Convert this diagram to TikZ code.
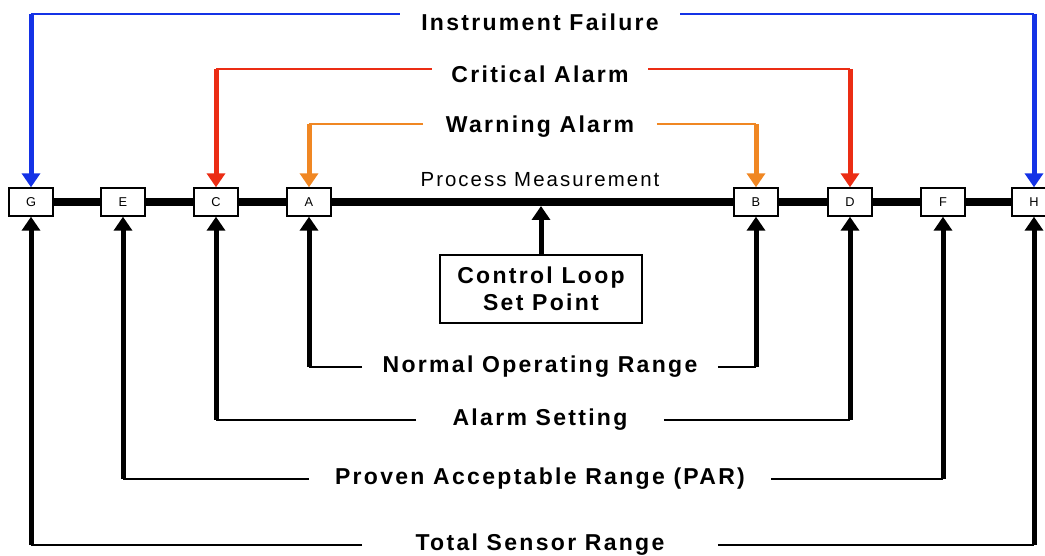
\documentclass[tikz,border=0pt]{standalone}
\usepackage{fontspec}
\setmainfont{Liberation Sans}
\newfontfamily\spacedfont[LetterSpace=10]{Liberation Sans}
\usetikzlibrary{arrows.meta}
\definecolor{failblue}{RGB}{20,50,230}
\definecolor{critred}{RGB}{235,45,20}
\definecolor{warnorange}{RGB}{240,135,35}
\tikzset{
  limitbox/.style={draw, line width=0.7pt, fill=white, minimum width=22pt, minimum height=14pt, inner sep=0pt, font=\fontsize{6.4}{7}\selectfont},
  rangelabel/.style={font=\spacedfont\bfseries\fontsize{11.5}{13}\selectfont, inner sep=0pt, minimum width=#1},
  hline/.style={line width=1.2pt},
  vline/.style={line width=2.5pt, -{Triangle[width=9pt,length=7pt]}},
  measbar/.style={line width=4pt}
}
\begin{document}
\begin{tikzpicture}[x=0.5pt,y=-0.5pt]
\useasboundingbox (0,0) rectangle (1045,556);
% limit points on the measurement scale
\node[limitbox] (G) at (31,202) {G};
\node[limitbox] (E) at (123,202) {E};
\node[limitbox] (C) at (216,202) {C};
\node[limitbox] (A) at (309,202) {A};
\node[limitbox] (B) at (756,202) {B};
\node[limitbox] (D) at (850,202) {D};
\node[limitbox] (F) at (943,202) {F};
\node[limitbox] (H) at (1034,202) {H};
\draw[measbar] (G) -- (E) -- (C) -- (A) -- (B) -- (D) -- (F) -- (H);
\node[font=\spacedfont\fontsize{10.2}{12}\selectfont] (meas) at (540,180) {Process Measurement};

% set point
\node[draw, line width=0.7pt, minimum width=101pt, minimum height=34pt, align=center,
  font=\spacedfont\bfseries\fontsize{11.5}{13.5}\selectfont] (setpt) at (541,289) {Control Loop\\Set Point};
\path (A.center -| setpt.north) ++(0,-2pt) coordinate (spin);
\draw[vline] (setpt) -- (spin);

% alarms above the scale
\node[rangelabel=140pt] (instr) at (540,22) {Instrument Failure};
\node[rangelabel=108pt] (crit) at (540,74) {Critical Alarm};
\node[rangelabel=116.5pt] (warn) at (540,127) {Warning Alarm};
\path ([yshift=4pt]instr.west) coordinate (instrL) ([yshift=4pt]instr.east) coordinate (instrR);
\path ([yshift=2.5pt]crit.west) coordinate (critL) ([yshift=2.5pt]crit.east) coordinate (critR);
\path ([yshift=1.5pt]warn.west) coordinate (warnL) ([yshift=1.5pt]warn.east) coordinate (warnR);
\foreach \from/\to/\col in {instrL/G/failblue, instrR/H/failblue, critL/C/critred,
    critR/D/critred, warnL/A/warnorange, warnR/B/warnorange} {
  \draw[\col, hline] (\from) -- (\from -| \to);
  \draw[\col, vline] (\from -| \to) -- (\to.north);
}

% ranges below the scale
\node[rangelabel=177.5pt] (normal) at (540,367) {Normal Operating Range};
\node[rangelabel=123.5pt] (alarm) at (540,420) {Alarm Setting};
\node[rangelabel=231pt] (par) at (540,479) {Proven Acceptable Range (PAR)};
\node[rangelabel=177.5pt] (total) at (540,545) {Total Sensor Range};
\foreach \from/\to in {normal.west/A, normal.east/B, alarm.west/C, alarm.east/D,
    par.west/E, par.east/F, total.west/G, total.east/H} {
  \draw[hline] (\from) -- (\from -| \to);
  \draw[vline] (\from -| \to) -- (\to.south);
}
\end{tikzpicture}
\end{document}
